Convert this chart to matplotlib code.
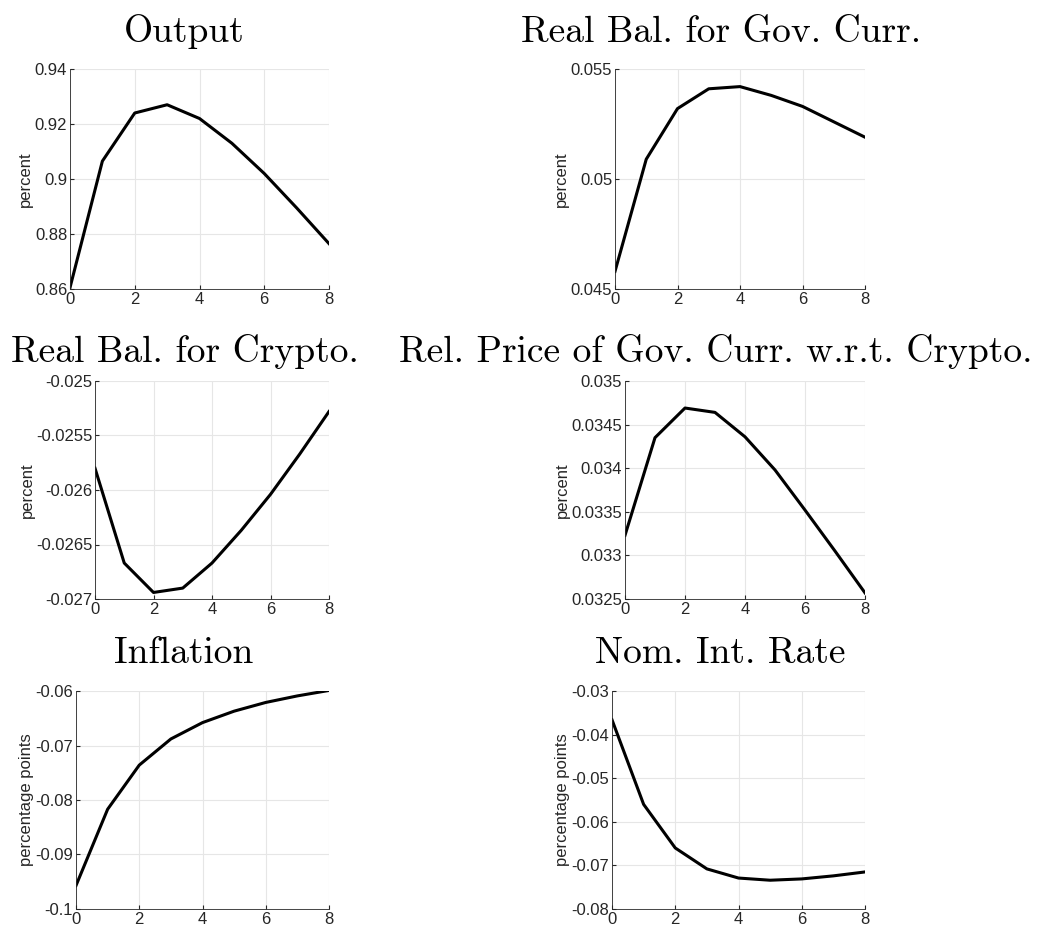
import matplotlib.pyplot as plt

plt.rcParams['font.family'] = ['Liberation Sans', 'DejaVu Sans']
plt.rcParams['axes.unicode_minus'] = False

periods = [0, 1, 2, 3, 4, 5, 6, 7, 8]

output = [0.8605, 0.9065, 0.9240, 0.9270, 0.9220, 0.9130, 0.9020, 0.8895, 0.8765]
real_gov = [0.0458, 0.0509, 0.0532, 0.0541, 0.0542, 0.0538, 0.0533, 0.0526, 0.0519]
real_crypto = [-0.02580, -0.02667, -0.02694, -0.02690, -0.02667, -0.02637, -0.02604, -0.02567, -0.02528]
rel_price = [0.03323, 0.03435, 0.03469, 0.03464, 0.03436, 0.03398, 0.03352, 0.03305, 0.03257]
inflation = [-0.0957, -0.0817, -0.0736, -0.0688, -0.0658, -0.0637, -0.0621, -0.0609, -0.0599]
nom_rate = [-0.0366, -0.0560, -0.0660, -0.0708, -0.0729, -0.0734, -0.0731, -0.0724, -0.0715]

titles = ['Output', 'Real Bal. for Gov. Curr.', 'Real Bal. for Crypto.',
          'Rel. Price of Gov. Curr. w.r.t. Crypto.', 'Inflation', 'Nom. Int. Rate']
ylabels = ['percent', 'percent', 'percent', 'percent', 'percentage points', 'percentage points']
series = [output, real_gov, real_crypto, rel_price, inflation, nom_rate]
ylims = [(0.86, 0.94), (0.045, 0.055), (-0.027, -0.025), (0.0325, 0.035), (-0.1, -0.06), (-0.08, -0.03)]
yticks = [[0.86, 0.88, 0.9, 0.92, 0.94],
          [0.045, 0.05, 0.055],
          [-0.027, -0.0265, -0.026, -0.0255, -0.025],
          [0.0325, 0.033, 0.0335, 0.034, 0.0345, 0.035],
          [-0.1, -0.09, -0.08, -0.07, -0.06],
          [-0.08, -0.07, -0.06, -0.05, -0.04, -0.03]]
ylabs = [['0.86', '0.88', '0.9', '0.92', '0.94'],
         ['0.045', '0.05', '0.055'],
         ['-0.027', '-0.0265', '-0.026', '-0.0255', '-0.025'],
         ['0.0325', '0.033', '0.0335', '0.034', '0.0345', '0.035'],
         ['-0.1', '-0.09', '-0.08', '-0.07', '-0.06'],
         ['-0.08', '-0.07', '-0.06', '-0.05', '-0.04', '-0.03']]

W, H = 1046, 936
# axes boxes in pixels: left, top, right, bottom
boxes = [(70, 69, 329, 289), (615, 69, 865, 289),
         (95, 381, 329, 599), (625, 381, 865, 599),
         (76, 691, 329, 909), (612, 691, 865, 909)]
# title centre x and baseline y, pixels
title_pos = [(184, 42), (721, 42), (185, 362), (716, 362), (184, 663), (720, 663)]

fig = plt.figure(figsize=(W / 100, H / 100), dpi=100)

for i in range(6):
    l, t, r, b = boxes[i]
    ax = fig.add_axes([l / W, 1 - b / H, (r - l) / W, (b - t) / H])
    ax.plot(periods, series[i], color='black', linewidth=2.2)
    ax.set_xlim(0, 8)
    ax.set_ylim(*ylims[i])
    ax.set_xticks([0, 2, 4, 6, 8])
    ax.set_yticks(yticks[i])
    ax.set_yticklabels(ylabs[i])
    ax.grid(True, color='#e6e6e6', linewidth=0.8)
    ax.set_axisbelow(True)
    for s in ['top', 'right']:
        ax.spines[s].set_visible(False)
    for s in ['left', 'bottom']:
        ax.spines[s].set_color('#262626')
        ax.spines[s].set_linewidth(0.6)
    ax.tick_params(direction='in', length=3, labelsize=12, colors='#262626', pad=2)
    ax.set_ylabel(ylabels[i], fontsize=12, color='#262626', labelpad=1)
    tx, ty = title_pos[i]
    ax.set_title(titles[i], fontsize=27, fontfamily='cmr10', pad=0,
                 x=(tx - l) / (r - l), y=1 + (t - ty) / (b - t), va='baseline', ha='center')

fig.savefig('out.png', dpi=100)
